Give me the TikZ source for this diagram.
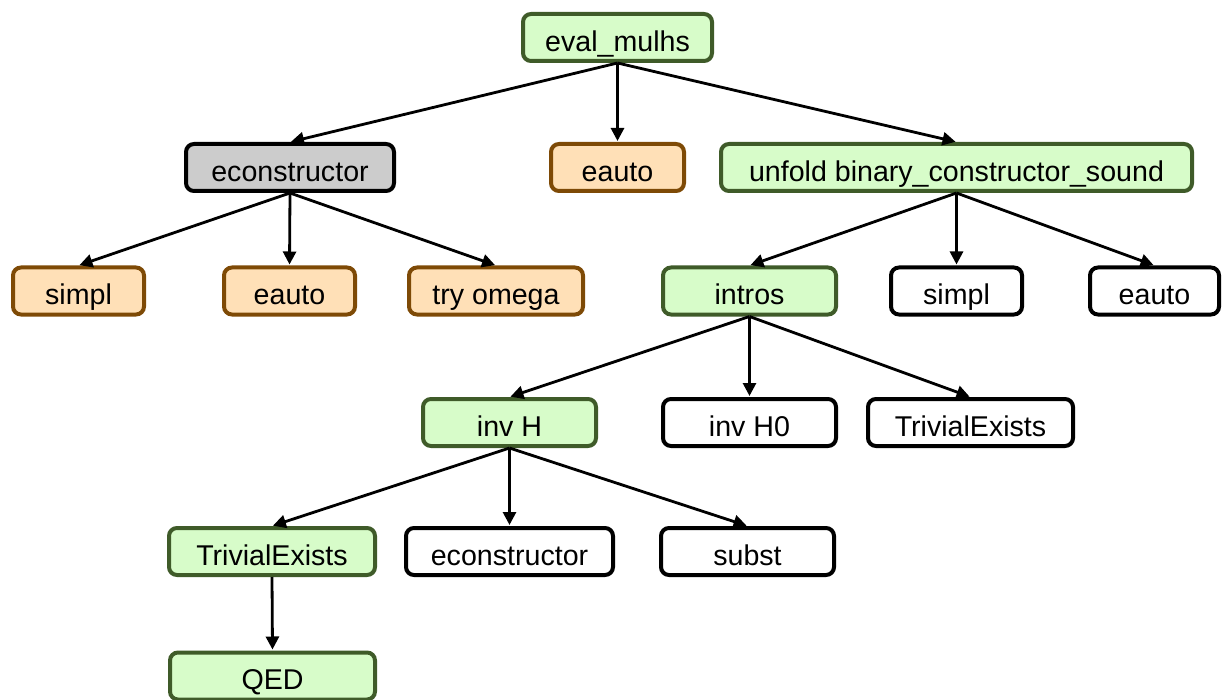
\documentclass[tikz,border=0pt]{standalone}
\usepackage{fontspec}
\setmainfont{Liberation Sans}
\usetikzlibrary{arrows.meta}
\definecolor{gfill}{HTML}{D7FCC9}
\definecolor{gline}{HTML}{3F5B29}
\definecolor{ofill}{HTML}{FFE0B7}
\definecolor{oline}{HTML}{7E4A06}
\definecolor{kfill}{HTML}{CCCCCC}
\tikzset{
  tac/.style={rounded corners=8pt, line width=4pt, inner sep=0pt,
    minimum height=47pt, text height=27.5pt, text depth=0pt,
    font=\fontsize{28.6}{31}\selectfont, text=black},
  done/.style={tac, draw=gline, fill=gfill},
  auto/.style={tac, draw=oline, fill=ofill},
  fail/.style={tac, draw=black, fill=kfill},
  open/.style={tac, draw=black, fill=white},
  edge/.style={line width=2.8pt, -{Triangle[length=13pt,width=13pt]}, shorten >=1pt}
}
\begin{document}
\begin{tikzpicture}[x=1pt,y=-1pt]
\useasboundingbox (0,0) rectangle (1222,700);
% level 0
\node[done, minimum width=189pt] (root) at (617.5,37.5) {eval\_mulhs};
% level 1
\node[fail, minimum width=208pt] (ec1) at (290,167.5) {econstructor};
\node[auto, minimum width=133pt] (ea1) at (617.5,167.5) {eauto};
\node[done, minimum width=471pt] (unf) at (956.5,167.5) {unfold binary\_constructor\_sound};
% level 2
\node[auto, minimum width=131pt] (si1) at (78.5,291) {simpl};
\node[auto, minimum width=131pt] (ea2) at (289.5,291) {eauto};
\node[auto, minimum width=174pt] (om) at (496,291) {try omega};
\node[done, minimum width=173pt] (intr) at (749.5,291) {intros};
\node[open, minimum width=131pt] (si2) at (956.5,291) {simpl};
\node[open, minimum width=129pt] (ea3) at (1154.5,291) {eauto};
% level 3
\node[done, minimum width=173pt] (invh) at (509.5,422.5) {inv H};
\node[open, minimum width=173pt] (invh0) at (749.5,422.5) {inv H0};
\node[open, minimum width=205pt] (te1) at (970.5,422.5) {TrivialExists};
% level 4
\node[done, minimum width=206pt] (te2) at (272,551.5) {TrivialExists};
\node[open, minimum width=207pt] (ec2) at (509.5,551.5) {econstructor};
\node[open, minimum width=173pt] (sub) at (747.5,551.5) {subst};
% level 5
\node[done, minimum width=205pt] (qed) at (272.5,676) {QED};
% connectors
\foreach \p/\c in {root/ec1, root/ea1, root/unf,
                   ec1/si1, ec1/ea2, ec1/om,
                   unf/intr, unf/si2, unf/ea3,
                   intr/invh, intr/invh0, intr/te1,
                   invh/te2, invh/ec2, invh/sub,
                   te2/qed}
  \draw[edge] (\p.south) -- (\c.north);
\end{tikzpicture}
\end{document}
